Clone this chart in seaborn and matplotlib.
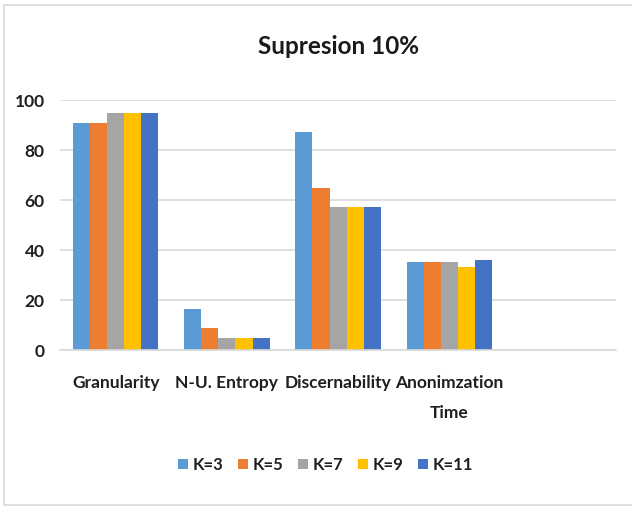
import matplotlib
matplotlib.use("Agg")
import matplotlib.pyplot as plt
import pandas as pd
import seaborn as sns
from matplotlib.patches import Rectangle

# Data
metrics = ["Granularity", "N-U. Entropy", "Discernability", "Anonimzation\nTime"]
k_labels = ["K=3", "K=5", "K=7", "K=9", "K=11"]

k3 = [91, 16.5, 87.3, 35.2]
k5 = [91, 8.7, 64.8, 35.2]
k7 = [95, 4.8, 57.2, 35.2]
k9 = [95, 4.8, 57.2, 33.4]
k11 = [95, 4.8, 57.2, 36.0]

colors = ["#5B9BD5", "#ED7D31", "#A5A5A5", "#FFC000", "#4472C4"]

rows = []
for lab, vals in zip(k_labels, [k3, k5, k7, k9, k11]):
    for m, v in zip(metrics, vals):
        rows.append({"metric": m, "K": lab, "value": v})
df = pd.DataFrame(rows)

sns.set_style("white")
plt.rcParams["font.family"] = ["Lato", "DejaVu Sans"]

fig = plt.figure(figsize=(6.32, 5.08), dpi=100)
ax = fig.add_axes([0.095, 0.311, 0.88, 0.492])

sns.barplot(data=df, x="metric", y="value", hue="K", order=metrics,
            hue_order=k_labels, palette=colors, width=0.77, saturation=1,
            linewidth=0, ax=ax, legend=True)

# empty fifth slot like the original Excel chart
ax.set_xlim(-0.5, 4.5)
ax.set_ylim(0, 100)
ax.set_yticks([0, 20, 40, 60, 80, 100])
ax.yaxis.grid(True, color="#D9D9D9", linewidth=1.2)
ax.set_axisbelow(True)
for s in ["top", "right", "left"]:
    ax.spines[s].set_visible(False)
ax.spines["bottom"].set_color("#D9D9D9")
ax.spines["bottom"].set_linewidth(1.2)
ax.tick_params(axis="x", length=0, labelsize=12.5, pad=18)
ax.tick_params(axis="y", length=0, labelsize=12.5, pad=11)
for t in ax.get_xticklabels() + ax.get_yticklabels():
    t.set_fontweight("bold")
    t.set_color("#1f1f1f")
    t.set_linespacing(2.1)
ax.set_xlabel("")
ax.set_ylabel("")

ax.set_title("Supresion 10%", fontsize=17.5, fontweight="bold", color="#1a1a1a",
             pad=33)

handles, labels = ax.get_legend_handles_labels()
ax.get_legend().remove()
leg = fig.legend(handles, labels, loc="center", ncol=5,
                 bbox_to_anchor=(0.515, 1 - 465 / 508), frameon=False,
                 handlelength=0.6, handleheight=0.6, handletextpad=0.25,
                 columnspacing=0.9, prop={"size": 12, "weight": "bold"})
for t in leg.get_texts():
    t.set_color("#1f1f1f")

# chart area border
fig.patches.append(Rectangle((4 / 632, 3 / 508), 1.2, 1 - 8 / 508,
                             transform=fig.transFigure, fill=False,
                             edgecolor="#D9D9D9", linewidth=1.2))

fig.savefig("out.png", dpi=100)
